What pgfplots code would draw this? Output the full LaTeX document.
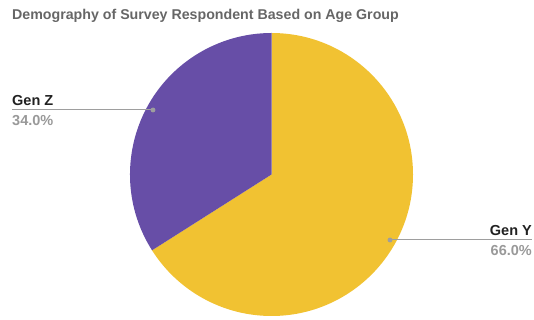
\documentclass[border=0pt]{standalone}
\usepackage{pgfplots}
\pgfplotsset{compat=1.18}
\usepackage{fontspec}
\setmainfont{Liberation Sans}
\definecolor{genY}{HTML}{F1C232}
\definecolor{genZ}{HTML}{674EA7}
\definecolor{titlegray}{HTML}{666666}
\definecolor{lblgray}{HTML}{999999}
\definecolor{linegray}{HTML}{9E9E9E}
\begin{document}
\begin{tikzpicture}
\def\GenY{66.0}
\def\GenZ{34.0}
\pgfmathsetmacro{\angY}{90-\GenY*3.6}
\begin{axis}[
  width=534pt, height=320pt, scale only axis,
  xmin=0, xmax=534, ymin=0, ymax=320,
  hide axis, clip=false,
]
\path[use as bounding box] (axis cs:0,0) rectangle (axis cs:534,320);
% slices
\fill[genY] (axis cs:271.5,145.5) -- ++(90:141.5pt) arc[start angle=90, end angle=\angY, radius=141.5pt] -- cycle;
\fill[genZ] (axis cs:271.5,145.5) -- ++(\angY:141.5pt) arc[start angle=\angY+360, end angle=90, radius=141.5pt] -- cycle;
% leader lines
\addplot[linegray, line width=1pt, mark=none] coordinates {(12,210) (153,210)};
\addplot[linegray, line width=1pt, mark=none] coordinates {(390,80) (532,80)};
\addplot[only marks, mark=*, mark size=2.2pt, linegray] coordinates {(153,210) (390,80)};
% labels
\node[anchor=base west, inner sep=0pt, font=\fontsize{14.2}{16}\selectfont\bfseries, text=titlegray] at (axis cs:12,300) {Demography of Survey Respondent Based on Age Group};
\node[anchor=south west, inner sep=0pt, font=\fontsize{14.5}{16}\selectfont\bfseries, text=black!87] at (axis cs:12,214) {Gen Z};
\node[anchor=north west, inner sep=0pt, font=\fontsize{14.5}{16}\selectfont\bfseries, text=lblgray] at (axis cs:12,205) {\GenZ\%};
\node[anchor=south east, inner sep=0pt, font=\fontsize{14.5}{16}\selectfont\bfseries, text=black!87] at (axis cs:532,84) {Gen Y};
\node[anchor=north east, inner sep=0pt, font=\fontsize{14.5}{16}\selectfont\bfseries, text=lblgray] at (axis cs:532,75) {\GenY\%};
\end{axis}
\end{tikzpicture}
\end{document}
